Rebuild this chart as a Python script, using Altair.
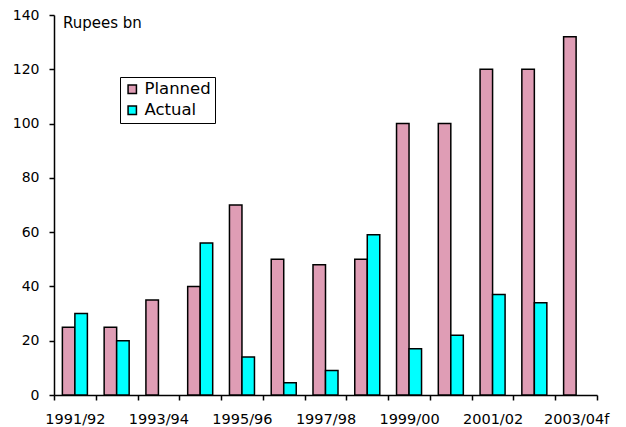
import altair as alt
import pandas as pd

years = ["1991/92", "1992/93", "1993/94", "1994/95", "1995/96", "1996/97", "1997/98",
         "1998/99", "1999/00", "2000/01", "2001/02", "2002/03", "2003/04f"]
planned = [25, 25, 35, 40, 70, 50, 48, 50, 100, 100, 120, 120, 132]
actual = [30, 20, None, 56, 14, 4.5, 9, 59, 17, 22, 37, 34, None]
shown_labels = ["1991/92", "1993/94", "1995/96", "1997/98", "1999/00", "2001/02", "2003/04f"]
series = ["Planned", "Actual"]
colors = ["#DF9DB5", "#00FFFF"]

rows = []
for y, p, a in zip(years, planned, actual):
    if p is not None:
        rows.append({"year": y, "series": "Planned", "value": p})
    if a is not None:
        rows.append({"year": y, "series": "Actual", "value": a})
df = pd.DataFrame(rows)

FONT = "DejaVu Sans"
label_list = "[" + ",".join(f"'{s}'" for s in shown_labels) + "]"

bars = alt.Chart(df).mark_bar(stroke="black", strokeWidth=1.5).encode(
    x=alt.X("year:N", sort=years,
            scale=alt.Scale(domain=years, paddingInner=0, paddingOuter=0),
            axis=alt.Axis(title=None, labelAngle=0, tickBand="extent",
                          labelExpr=f"indexof({label_list}, datum.value) >= 0 ? datum.label : ''",
                          labelOverlap=False, labelFontSize=14.5, labelPadding=12,
                          tickSize=5)),
    xOffset=alt.XOffset("series:N", sort=series,
                        scale=alt.Scale(domain=series, paddingInner=0, paddingOuter=0.67)),
    y=alt.Y("value:Q", scale=alt.Scale(domain=[0, 140], nice=False),
            axis=alt.Axis(title=None, values=list(range(0, 141, 20)), tickSize=5,
                          labelFontSize=14, labelPadding=10)),
    color=alt.Color("series:N", sort=series,
                    scale=alt.Scale(domain=series, range=colors),
                    legend=alt.Legend(title=None, orient="none", legendX=66, legendY=62,
                                      strokeColor="black", padding=4, fillColor="white",
                                      symbolType="square", symbolSize=70,
                                      symbolStrokeColor="black", symbolStrokeWidth=1.5,
                                      labelFontSize=16.5, rowPadding=4, labelOffset=4)),
)

unit_label = alt.Chart(pd.DataFrame({"t": ["Rupees bn"]})).mark_text(
    align="left", baseline="middle", fontSize=15, font=FONT, color="black"
).encode(text="t:N", x=alt.value(9), y=alt.value(8))

chart = alt.layer(bars, unit_label).properties(
    width=543, height=380,
    autosize=alt.AutoSizeParams(type="none"),
    padding={"left": 54, "top": 15, "right": 29, "bottom": 32},
).configure(font=FONT).configure_view(stroke=None).configure_axis(
    grid=False, domainColor="black", domainWidth=1.5, tickColor="black", tickWidth=1.5,
    labelColor="black", labelFont=FONT
).configure_legend(labelColor="black", labelFont=FONT)

chart.save("out.html", embed_options={"renderer": "svg", "actions": False})
